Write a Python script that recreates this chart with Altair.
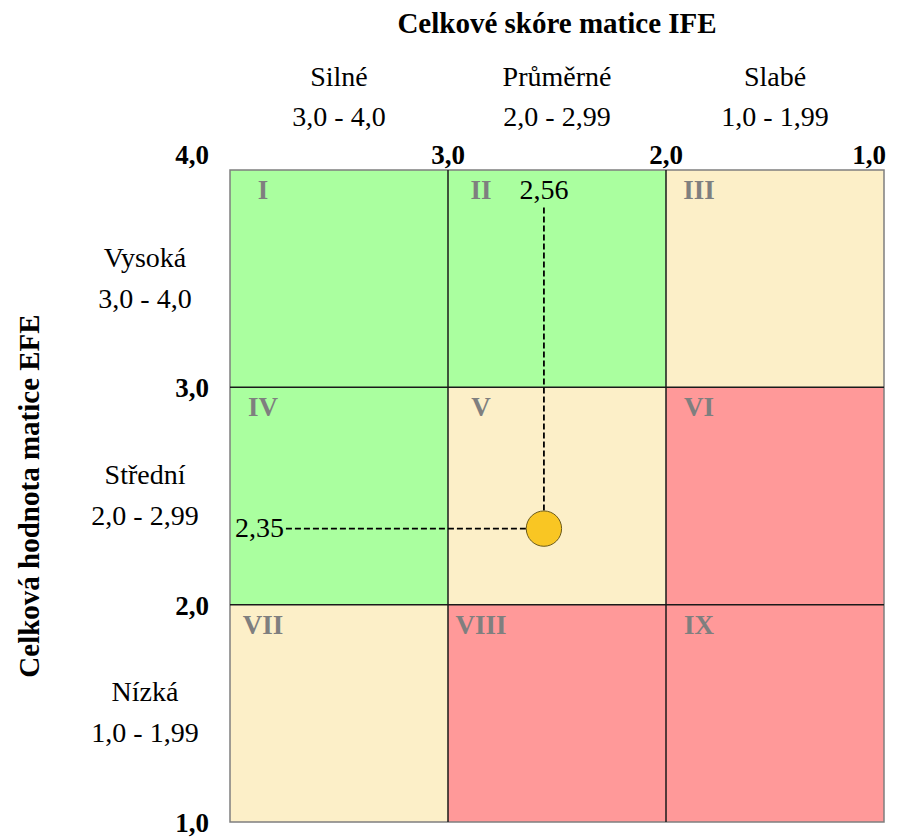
import altair as alt
import pandas as pd

# IE matrix: IFE total score (x, reversed 4 -> 1) vs EFE total score (y)
col_edges = [4.0, 3.0, 2.0, 1.0]
row_edges = [4.0, 3.0, 2.0, 1.0]
numerals = ["I", "II", "III", "IV", "V", "VI", "VII", "VIII", "IX"]
cell_colors = ["#aaff9f", "#aaff9f", "#fcefc8",
               "#aaff9f", "#fcefc8", "#ff9999",
               "#fcefc8", "#ff9999", "#ff9999"]

col_names = ["Silné", "Průměrné", "Slabé"]
col_ranges = ["3,0 - 4,0", "2,0 - 2,99", "1,0 - 1,99"]
row_names = ["Vysoká", "Střední", "Nízká"]
row_ranges = ["3,0 - 4,0", "2,0 - 2,99", "1,0 - 1,99"]

tick_values = [4.0, 3.0, 2.0, 1.0]
tick_labels = ["4,0", "3,0", "2,0", "1,0"]

ife_score = 2.56
efe_score = 2.35
ife_label = "2,56"
efe_label = "2,35"

FONT = "Liberation Serif"

cells = []
for r in range(3):
    for c in range(3):
        cells.append({
            "x0": col_edges[c], "x1": col_edges[c + 1],
            "y0": row_edges[r], "y1": row_edges[r + 1],
            "num": numerals[r * 3 + c], "color": cell_colors[r * 3 + c],
        })
cells_df = pd.DataFrame(cells)

xs = alt.Scale(domain=[1, 4], reverse=True, nice=False, zero=False)
ys = alt.Scale(domain=[1, 4], nice=False, zero=False)

base = alt.Chart(cells_df)

rects = base.mark_rect().encode(
    x=alt.X("x0:Q", scale=xs, axis=None),
    x2="x1:Q",
    y=alt.Y("y0:Q", scale=ys, axis=None),
    y2="y1:Q",
    fill=alt.Fill("color:N", scale=None),
)

numeral_text = base.mark_text(
    font=FONT, fontSize=27, fontWeight="bold", color="#7f7f7f",
    align="center", baseline="middle", dx=33, dy=21,
).encode(x="x0:Q", y="y0:Q", text="num:N")

frame = alt.Chart(pd.DataFrame({"x0": [4.0], "x1": [1.0], "y0": [4.0], "y1": [1.0]})).mark_rect(
    fill=None, stroke="#7f7f7f", strokeWidth=1.5
).encode(x="x0:Q", x2="x1:Q", y="y0:Q", y2="y1:Q")

inner = [3.0, 2.0]
vlines = alt.Chart(pd.DataFrame({"v": inner})).mark_rule(color="#1a1a1a", strokeWidth=1.5).encode(
    x="v:Q", y=alt.value(0), y2=alt.value(652)
)
hlines = alt.Chart(pd.DataFrame({"v": inner})).mark_rule(color="#1a1a1a", strokeWidth=1.5).encode(
    y="v:Q", x=alt.value(0), x2=alt.value(654)
)

# column headers above the grid
cols_df = pd.DataFrame({
    "xc": [(col_edges[i] + col_edges[i + 1]) / 2 for i in range(3)],
    "name": col_names, "rng": col_ranges,
})
col_name_text = alt.Chart(cols_df).mark_text(
    font=FONT, fontSize=28, color="black", align="center", baseline="middle", dy=-92
).encode(x="xc:Q", y=alt.datum(4.0), text="name:N")
col_rng_text = alt.Chart(cols_df).mark_text(
    font=FONT, fontSize=28, color="black", align="center", baseline="middle", dy=-52
).encode(x="xc:Q", y=alt.datum(4.0), text="rng:N")

# row headers left of the grid
rows_df = pd.DataFrame({
    "yc": [(row_edges[i] + row_edges[i + 1]) / 2 for i in range(3)],
    "name": row_names, "rng": row_ranges,
})
row_name_text = alt.Chart(rows_df).mark_text(
    font=FONT, fontSize=28, color="black", align="center", baseline="middle", dx=-85, dy=-20
).encode(y="yc:Q", x=alt.datum(4.0), text="name:N")
row_rng_text = alt.Chart(rows_df).mark_text(
    font=FONT, fontSize=28, color="black", align="center", baseline="middle", dx=-85, dy=21
).encode(y="yc:Q", x=alt.datum(4.0), text="rng:N")

# tick labels
ticks_df = pd.DataFrame({"v": tick_values, "lab": tick_labels})
x_mid = alt.Chart(ticks_df[ticks_df.v.isin([3.0, 2.0])]).mark_text(
    font=FONT, fontSize=27, fontWeight="bold", color="black", align="center", baseline="middle", dy=-14
).encode(x="v:Q", y=alt.datum(4.0), text="lab:N")
x_end = alt.Chart(ticks_df[ticks_df.v == 1.0]).mark_text(
    font=FONT, fontSize=27, fontWeight="bold", color="black", align="right", baseline="middle", dx=2, dy=-14
).encode(x="v:Q", y=alt.datum(4.0), text="lab:N")
x_start = alt.Chart(ticks_df[ticks_df.v == 4.0]).mark_text(
    font=FONT, fontSize=27, fontWeight="bold", color="black", align="right", baseline="middle", dx=-21, dy=-14
).encode(x="v:Q", y=alt.datum(4.0), text="lab:N")
y_ticks = alt.Chart(ticks_df[ticks_df.v != 4.0]).mark_text(
    font=FONT, fontSize=27, fontWeight="bold", color="black", align="right", baseline="middle", dx=-21, dy=2
).encode(y="v:Q", x=alt.datum(4.0), text="lab:N")

# axis titles
x_title = alt.Chart(pd.DataFrame({"t": ["Celkové skóre matice IFE"]})).mark_text(
    font=FONT, fontSize=29, fontWeight="bold", color="black", align="center", baseline="middle", dy=-146
).encode(x=alt.datum(2.5), y=alt.datum(4.0), text="t:N")
# rotated text: dy runs along the screen's horizontal axis
y_title = alt.Chart(pd.DataFrame({"t": ["Celková hodnota matice EFE"]})).mark_text(
    font=FONT, fontSize=29, fontWeight="bold", color="black", align="center", baseline="middle",
    angle=270, dy=-200
).encode(y=alt.datum(2.5), x=alt.datum(4.0), text="t:N")

# the position of the company and its guide lines
pt_df = pd.DataFrame({"ife": [ife_score], "efe": [efe_score],
                      "ife_lab": [ife_label], "efe_lab": [efe_label]})
pt = alt.Chart(pt_df)
v_guide = pt.mark_rule(color="black", strokeWidth=1.8, strokeDash=[6, 3]).encode(
    x="ife:Q", y="efe:Q", y2=alt.value(36)
)
h_guide = pt.mark_rule(color="black", strokeWidth=1.8, strokeDash=[6, 3]).encode(
    y="efe:Q", x="ife:Q", x2=alt.value(55)
)
dot = pt.mark_point(filled=True, shape="circle", size=1250, fill="#f9c623",
                    stroke="#6b5a1a", strokeWidth=1, opacity=1).encode(x="ife:Q", y="efe:Q")
ife_text = pt.mark_text(font=FONT, fontSize=28, color="black", align="center", baseline="middle").encode(
    x="ife:Q", y=alt.value(21), text="ife_lab:N"
)
efe_text = pt.mark_text(font=FONT, fontSize=28, color="black", align="right", baseline="middle",
                        dx=54).encode(
    x=alt.datum(4.0), y="efe:Q", text="efe_lab:N"
)

chart = alt.layer(
    rects, frame, vlines, hlines, numeral_text,
    col_name_text, col_rng_text, row_name_text, row_rng_text,
    x_mid, x_end, x_start, y_ticks, x_title, y_title,
    v_guide, h_guide, dot, ife_text, efe_text,
).properties(
    width=654, height=652,
    autosize=alt.AutoSizeParams(type="none"),
    padding={"left": 230, "top": 170, "right": 18, "bottom": 16},
    background="white",
).configure_view(stroke=None)

chart.save("out.html", embed_options={"renderer": "svg", "actions": False})
